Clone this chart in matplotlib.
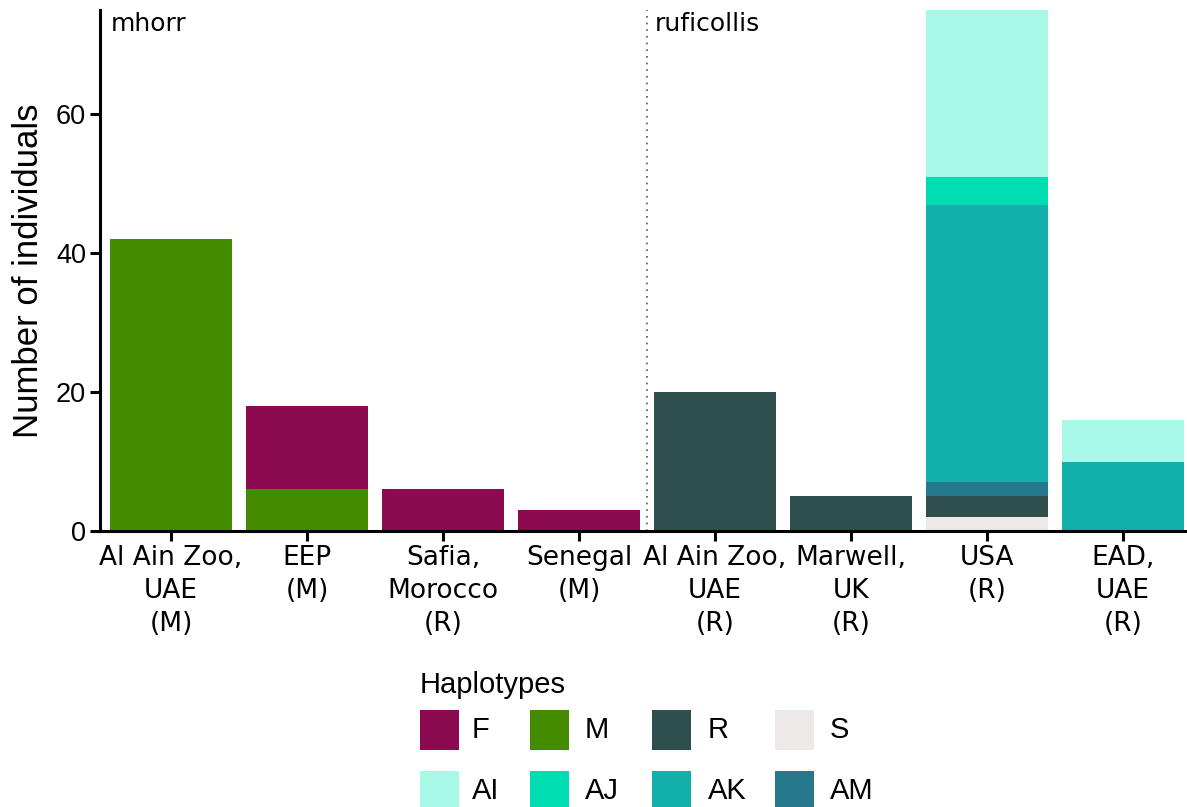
import numpy as np
import matplotlib.pyplot as plt
from matplotlib.patches import Rectangle

# data
sites = ['Al Ain Zoo,\nUAE\n(M)', 'EEP\n(M)', 'Safia,\nMorocco\n(R)', 'Senegal\n(M)',
         'Al Ain Zoo,\nUAE\n(R)', 'Marwell,\nUK\n(R)', 'USA\n(R)', 'EAD,\nUAE\n(R)']
haplotypes = ['F', 'M', 'R', 'S', 'AI', 'AJ', 'AK', 'AM']
colors = ['#8B0A50', '#458B00', '#2F4F4F', '#EEE9E9', '#A8F8E7', '#00DDB3', '#12AFAB', '#26798D']
stack_order = ['S', 'R', 'AM', 'AK', 'AJ', 'AI', 'M', 'F']   # bottom -> top
counts = {
    'F':  [0, 12, 6, 3, 0, 0, 0, 0],
    'M':  [42, 6, 0, 0, 0, 0, 0, 0],
    'R':  [0, 0, 0, 0, 20, 5, 3, 0],
    'S':  [0, 0, 0, 0, 0, 0, 2, 0],
    'AI': [0, 0, 0, 0, 0, 0, 24, 6],
    'AJ': [0, 0, 0, 0, 0, 0, 4, 0],
    'AK': [0, 0, 0, 0, 0, 0, 40, 10],
    'AM': [0, 0, 0, 0, 0, 0, 2, 0],
}
groups = ['mhorr', 'ruficollis']
group_start = [0, 4]

W, H = 1187, 807
fig = plt.figure(figsize=(W / 100, H / 100), dpi=100)
ax = fig.add_axes([100 / W, 1 - 531 / H, 1087 / W, 521 / H])

col = dict(zip(haplotypes, colors))
x = np.arange(len(sites))
bottom = np.zeros(len(sites))
for h in stack_order:
    v = np.array(counts[h], dtype=float)
    ax.bar(x, v, width=0.9, bottom=bottom, color=col[h], linewidth=0)
    bottom += v

ax.axvline(3.5, color='#555555', linestyle=(0, (1, 3)), linewidth=1.2)
for g, s in zip(groups, group_start):
    ax.text(s - 0.44, 74.7, g, fontsize=18, family='DejaVu Sans', va='top', ha='left')

ax.set_xlim(-0.522, 7.47)
ax.set_ylim(0, 75)
ax.set_xticks(x)
ax.set_xticklabels(sites, fontsize=19, family='DejaVu Sans', linespacing=1.35)
ax.set_yticks([0, 20, 40, 60])
ax.set_yticklabels(['0', '20', '40', '60'], fontsize=19.5, family='Liberation Sans')
ax.set_ylabel('Number of individuals', fontsize=25, family='Liberation Sans', labelpad=8)
for s in ['top', 'right']:
    ax.spines[s].set_visible(False)
for s in ['left', 'bottom']:
    ax.spines[s].set_linewidth(2.2)
    ax.spines[s].set_capstyle('projecting')
ax.tick_params(axis='both', length=7, width=2.2, pad=3)

# legend drawn by hand
fig.text(420 / W, 1 - 685 / H, 'Haplotypes', fontsize=21, family='Liberation Sans', va='center')
box_x = [420, 530, 652, 775]
lab_x = [472, 585, 708, 830]
row_y = [730, 791]
for i, (h, c) in enumerate(zip(haplotypes, colors)):
    r, k = divmod(i, 4)
    fig.patches.append(Rectangle((box_x[k] / W, 1 - (row_y[r] + 20) / H), 39 / W, 40 / H,
                                 transform=fig.transFigure, facecolor=c, edgecolor='none'))
    fig.text(lab_x[k] / W, 1 - row_y[r] / H, h, fontsize=21, family='Liberation Sans', va='center')

fig.savefig('out.png', dpi=100)
